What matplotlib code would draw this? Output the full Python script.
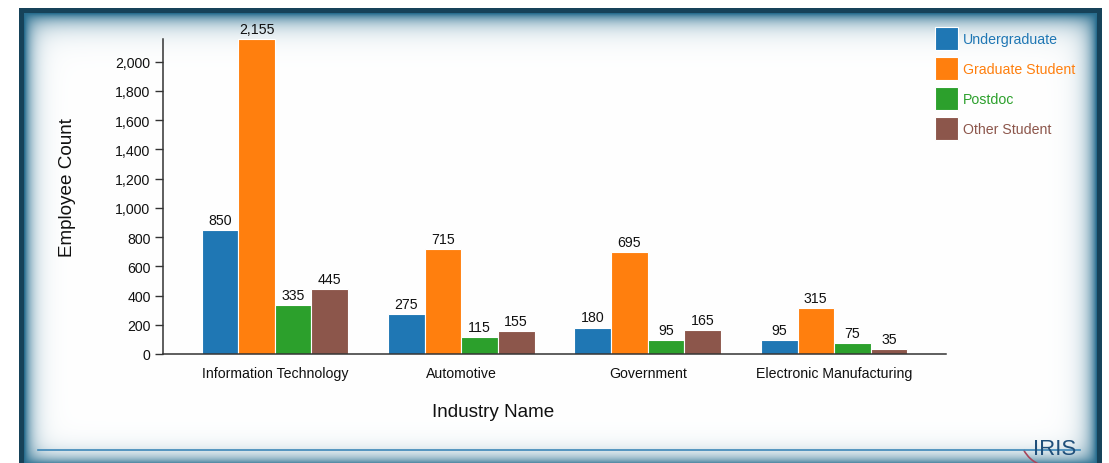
import numpy as np
import matplotlib
matplotlib.use('Agg')
import matplotlib.pyplot as plt
from matplotlib.patches import Arc

plt.rcParams['font.family'] = ['Liberation Sans', 'DejaVu Sans']

industries = ['Information Technology', 'Automotive', 'Government', 'Electronic Manufacturing']
groups = ['Undergraduate', 'Graduate Student', 'Postdoc', 'Other Student']
undergraduate = [850, 275, 180, 95]
graduate = [2155, 715, 695, 315]
postdoc = [335, 115, 95, 75]
other_student = [445, 155, 165, 35]
colors = ['#1f77b4', '#ff7f0e', '#2ca02c', '#8c564b']

W, H = 1109, 464
fig = plt.figure(figsize=(W / 100, H / 100), dpi=100)

# framed panel with an inset shadow, drawn in pixel coordinates
bg = fig.add_axes([0, 0, 1, 1], zorder=0)
bg.set_xlim(0, W)
bg.set_ylim(H, 0)
bg.axis('off')

yy, xx = np.mgrid[0:H, 0:W].astype(float)
fl, ft, fr, fb = 19, 9, 1101, 470
band = 5


def fade(d, scale):
    return 1 - np.exp(-np.clip(d - band, 0, None) / scale)


light = fade(xx - fl, 8) * fade(yy - ft, 10) * fade(fr - xx, 9) * fade(fb - yy, 8)
border = np.array([0.09, 0.26, 0.35])
shadow = np.array([0.16, 0.43, 0.56])
img = shadow[None, None, :] * (1 - light[..., None]) + light[..., None]
edge_dist = np.minimum.reduce([xx - fl, yy - ft, fr - xx, fb - yy])
img[edge_dist < band] = border
inside = (xx >= fl) & (xx <= fr) & (yy >= ft)
img[~inside] = 1.0
bg.imshow(img, extent=(0, W, H, 0), interpolation='bilinear', aspect='auto')

# footer rule and logo
bg.plot([38, 1080], [451, 451], color='#3d87b8', lw=1.2)
bg.add_patch(Arc((1052, 436), 64, 64, theta1=112, theta2=152, color='#a8455a', lw=1.2))
bg.text(1055, 450, 'IRIS', ha='center', va='center', fontsize=16,
        family=['Liberation Sans Narrow', 'Liberation Sans'], color='#1f4f7a')

ax = fig.add_axes([163 / W, (H - 355) / H, (946 - 163) / W, (355 - 40) / H], zorder=1)
ax.patch.set_alpha(0)

series = [undergraduate, graduate, postdoc, other_student]
x = np.arange(len(industries))
bw = 0.786 / len(series)
for i, (vals, name, c) in enumerate(zip(series, groups, colors)):
    pos = x - 0.393 + bw * (i + 0.5)
    bars = ax.bar(pos, vals, width=bw, color=c, edgecolor='white', linewidth=0.8, label=name)
    for b, v in zip(bars, vals):
        ax.text(b.get_x() + b.get_width() / 2, v + 22, f'{v:,}', ha='center', va='bottom',
                fontsize=10.2, color='#111111')

ax.set_xlim(-0.6, 3.6)
ax.set_ylim(0, 2155)
ax.set_yticks(np.arange(0, 2001, 200))
ax.set_yticklabels([f'{v:,}' for v in range(0, 2001, 200)])
ax.set_xticks(x)
ax.set_xticklabels(industries)
ax.tick_params(axis='x', length=0, pad=9, labelsize=10.2, labelcolor='#111111')
ax.tick_params(axis='y', length=6, width=1, pad=3, labelsize=10.2, labelcolor='#111111', color='#333333')
for s in ['top', 'right']:
    ax.spines[s].set_visible(False)
for s in ['left', 'bottom']:
    ax.spines[s].set_color('#333333')
    ax.spines[s].set_linewidth(1.1)

fig.text(68 / W, 1 - 188 / H, 'Employee Count', rotation=90, ha='center', va='center',
         fontsize=13.6, color='#111111')
fig.text(493 / W, 1 - 413 / H, 'Industry Name', ha='center', va='center',
         fontsize=13.6, color='#111111')

leg = ax.legend(loc='upper left', bbox_to_anchor=(935 / W, 1 - 28 / H), bbox_transform=fig.transFigure,
                frameon=False, fontsize=10.2, handlelength=1.62, handleheight=2.115,
                handletextpad=0.38, labelspacing=0.5, borderpad=0, borderaxespad=0)
for t, c in zip(leg.get_texts(), colors):
    t.set_color(c)

fig.savefig('out.png', dpi=100)
